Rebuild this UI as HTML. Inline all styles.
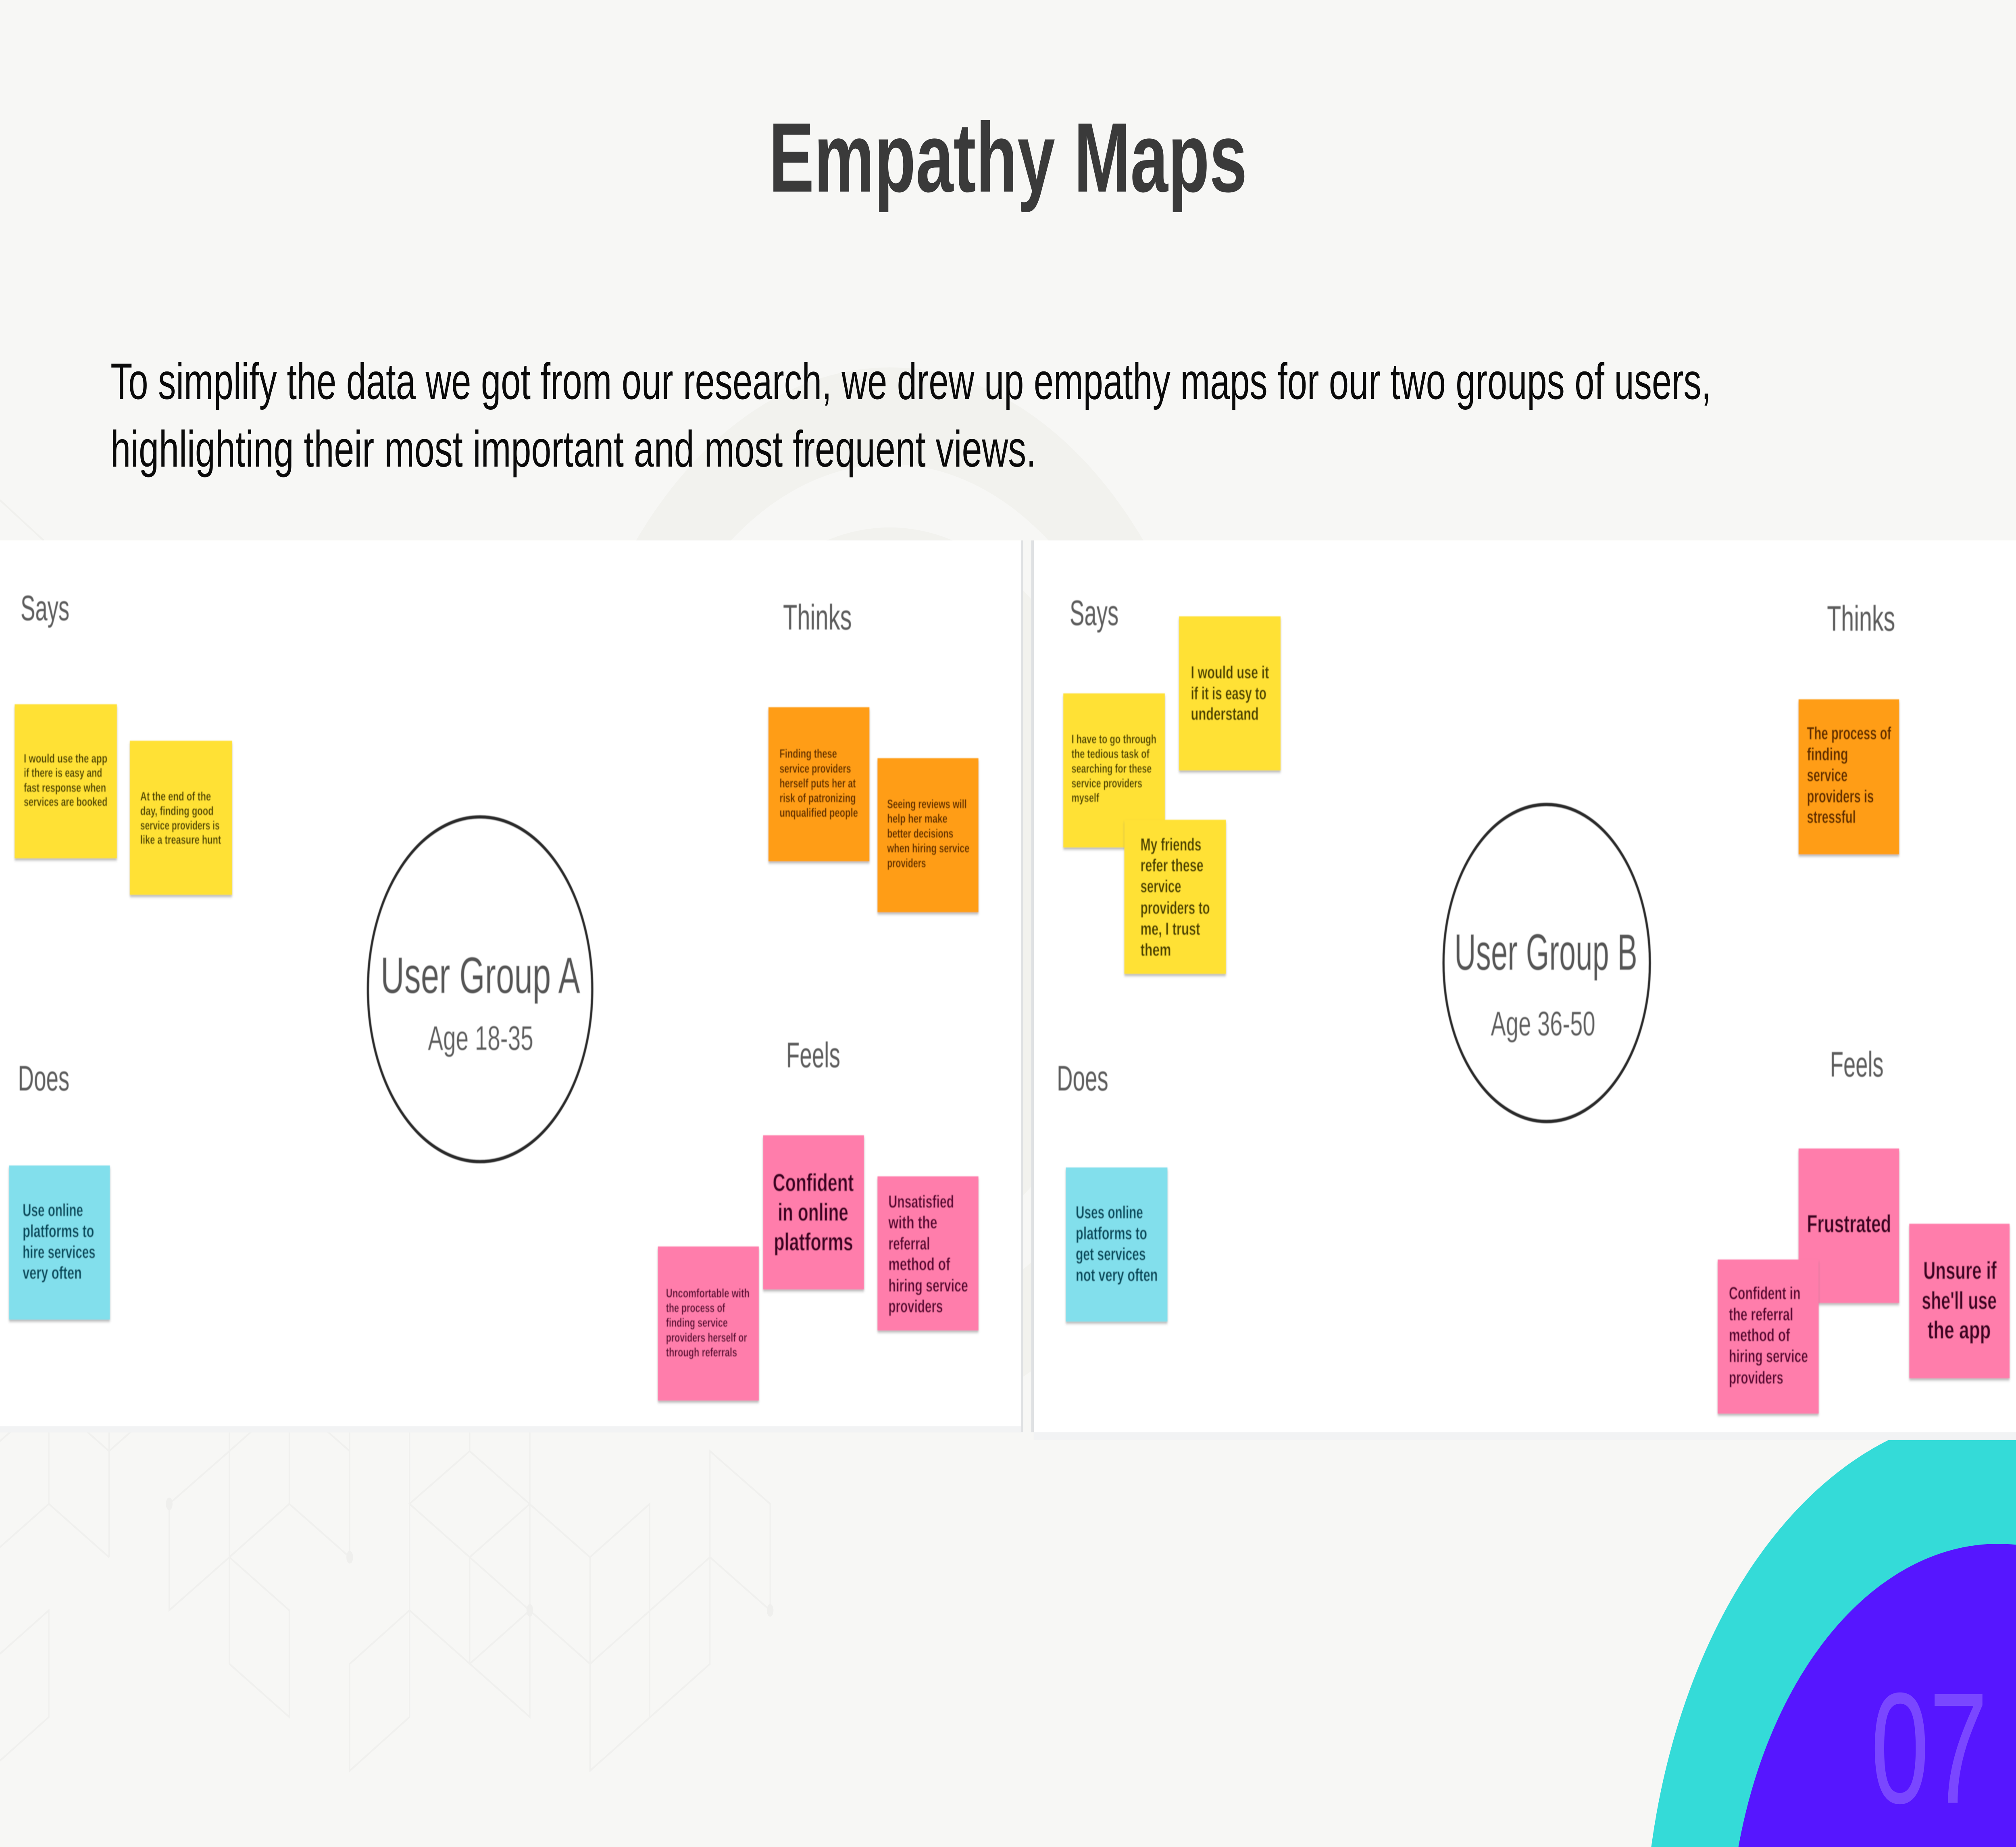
<!DOCTYPE html>
<html lang="en">
<head>
<meta charset="utf-8">
<title>Empathy Maps</title>
<style>
html,body{margin:0;padding:0;width:100%;height:100%;overflow:hidden;background:#f7f7f5}
svg{display:block;position:fixed;left:0;top:0;width:100vw;height:100vh;overflow:hidden}
text{font-family:"Liberation Sans",sans-serif}
.l{font-size:18px;fill:#5c5c5c}
.s text{font-weight:bold}
.a{font-size:6.2px}
.b{font-size:8.8px}
.c{font-size:12.5px}
.y{fill:#4a3f00}
.o{fill:#5e2c00}
.p{fill:#5a0030}
.t{fill:#00485c}
.d{fill:#3c0020}
</style>
</head>
<body>
<svg xmlns="http://www.w3.org/2000/svg" viewBox="0 0 1568 935" preserveAspectRatio="none">
<defs>
<filter id="bl" x="-2%" y="-2%" width="104%" height="104%"><feGaussianBlur stdDeviation="0.22"/></filter>
<filter id="sh" x="-10%" y="-10%" width="120%" height="120%"><feGaussianBlur stdDeviation="0.7"/></filter>
</defs>
<rect width="1568" height="935" fill="#f7f7f5"/>
<!-- background arcs -->
<circle cx="692" cy="452" r="266" fill="#f2f2ee"/>
<circle cx="692" cy="452" r="217" fill="#f7f7f5"/>
<circle cx="692" cy="452" r="185" fill="#f2f2ee"/>
<path d="M0 253.2L34 273.6" stroke="#f0f0ed" stroke-width="1" fill="none"/>
<!-- hex pattern -->
<g fill="none" stroke="#f0f0ee" stroke-width="1">
<path d="M38 707.6V761.3M84.8 707.6V788.3M0 783.2L38 761.3L84.8 788.3M0 729.5L38 707.6L84.8 734.6L131.6 707.6M0 837.2L38 815.2V869.2L0 891.3"/>
<path d="M131.6 761.3V815.2L178.4 788.3L225 761.3L272 788.3V707.6M131.6 761.3L178.4 734.6L225 707.6L272 734.6M178.4 707.6V842.3L225 869.2V815.2L178.4 788.3M225 707.6V761.3"/>
<path d="M318.5 707.6V869.2L272 896.4V842.3L318.5 815.2L412.1 869.2V707.6M365.3 707.6V734.6L318.5 761.3L458.9 842.3M365.3 734.6L458.9 788.3L505.3 761.3V869.2M365.3 788.3V842.3M365.3 788.3L412.1 761.3M412.1 815.2L365.3 842.3"/>
<path d="M458.9 788.3V896.4L552.2 842.3V734.6L599 761.3V815.2L552.2 788.3L458.9 842.3"/>
</g>
<g fill="#efefed">
<ellipse cx="131.6" cy="761.3" rx="2.6" ry="3.2"/>
<ellipse cx="272" cy="788.3" rx="2.6" ry="3.2"/>
<ellipse cx="412.1" cy="815.2" rx="2.6" ry="3.2"/>
<ellipse cx="599" cy="815.2" rx="2.6" ry="3.2"/>
</g>
<!-- panels -->
<rect x="0" y="722" width="794" height="3.2" fill="#f2f3f4"/>
<rect x="804" y="725" width="764" height="4" fill="#f2f3f4"/>
<rect x="0" y="273.6" width="794" height="448.4" fill="#ffffff"/>
<rect x="804" y="273.6" width="764" height="451.4" fill="#ffffff"/>
<rect x="794" y="273.6" width="1.6" height="451.4" fill="#dfe1e3"/>
<rect x="802" y="273.6" width="2.1" height="451.4" fill="#dfe1e3"/>
<!-- corner -->
<path d="M1284.3 935A275.5 275.5 0 0 1 1468.8 729H1568V935Z" fill="#34dbd8"/>
<path d="M1352.1 935A209.5 209.5 0 0 1 1568 782V935Z" fill="#5616ff"/>
<text x="1455" y="912.6" font-size="80" fill="#7a47ff" textLength="91" lengthAdjust="spacingAndGlyphs">07</text>
<!-- title + intro -->
<text x="598" y="97" font-size="50" font-weight="bold" fill="#3a3a3a" textLength="372" lengthAdjust="spacingAndGlyphs">Empathy Maps</text>
<text x="86" y="202" font-size="26" fill="#0a0a0a" textLength="1245" lengthAdjust="spacingAndGlyphs">To simplify the data we got from our research, we drew up empathy maps for our two groups of users,</text>
<text x="86" y="236.2" font-size="26" fill="#0a0a0a" textLength="720" lengthAdjust="spacingAndGlyphs">highlighting their most important and most frequent views.</text>

<g filter="url(#bl)">
<!-- labels -->
<text class="l" x="16" y="314" textLength="38" lengthAdjust="spacingAndGlyphs">Says</text>
<text class="l" x="14" y="552" textLength="40" lengthAdjust="spacingAndGlyphs">Does</text>
<text class="l" x="609" y="318.7" textLength="53.5" lengthAdjust="spacingAndGlyphs">Thinks</text>
<text class="l" x="611.5" y="540.3" textLength="42" lengthAdjust="spacingAndGlyphs">Feels</text>
<text class="l" x="832" y="316.4" textLength="38" lengthAdjust="spacingAndGlyphs">Says</text>
<text class="l" x="822" y="552" textLength="40" lengthAdjust="spacingAndGlyphs">Does</text>
<text class="l" x="1421" y="319.3" textLength="53" lengthAdjust="spacingAndGlyphs">Thinks</text>
<text class="l" x="1423.4" y="545" textLength="41.6" lengthAdjust="spacingAndGlyphs">Feels</text>

<!-- circles -->
<circle cx="373.4" cy="500.8" r="87.2" fill="#fff" stroke="#2b2b2b" stroke-width="1.8"/>
<text x="296" y="502.7" font-size="26" fill="#555" textLength="155.3" lengthAdjust="spacingAndGlyphs">User Group A</text>
<text x="332.8" y="531.5" font-size="17.5" fill="#5c5c5c" textLength="82" lengthAdjust="spacingAndGlyphs">Age 18-35</text>
<circle cx="1203" cy="487.5" r="80.2" fill="#fff" stroke="#2b2b2b" stroke-width="1.8"/>
<text x="1131.2" y="491" font-size="26" fill="#555" textLength="142.3" lengthAdjust="spacingAndGlyphs">User Group B</text>
<text x="1159.5" y="524.2" font-size="17.5" fill="#5c5c5c" textLength="81.3" lengthAdjust="spacingAndGlyphs">Age 36-50</text>

<!-- A yellow 1 -->
<rect x="11.4" y="357.5" width="79.5" height="78" fill="#777" opacity=".55" filter="url(#sh)"/>
<rect x="11.4" y="356.5" width="79.5" height="78" fill="#ffe135"/>
<g class="s">
<text class="a y" x="18.5" y="386" textLength="65" lengthAdjust="spacingAndGlyphs">I would use the app</text>
<text class="a y" x="18.5" y="393.3" textLength="61" lengthAdjust="spacingAndGlyphs">if there is easy and</text>
<text class="a y" x="18.5" y="400.8" textLength="64" lengthAdjust="spacingAndGlyphs">fast response when</text>
<text class="a y" x="18.5" y="408" textLength="65" lengthAdjust="spacingAndGlyphs">services are booked</text>
</g>
<!-- A yellow 2 -->
<rect x="101" y="376" width="79.5" height="78" fill="#777" opacity=".55" filter="url(#sh)"/>
<rect x="101" y="375" width="79.5" height="78" fill="#ffe135"/>
<g class="s">
<text class="a y" x="109.1" y="405.2" textLength="55" lengthAdjust="spacingAndGlyphs">At the end of the</text>
<text class="a y" x="109.1" y="412.6" textLength="57" lengthAdjust="spacingAndGlyphs">day, finding good</text>
<text class="a y" x="109.1" y="419.9" textLength="61.7" lengthAdjust="spacingAndGlyphs">service providers is</text>
<text class="a y" x="109.1" y="427.2" textLength="62.8" lengthAdjust="spacingAndGlyphs">like a treasure hunt</text>
</g>
<!-- A blue -->
<rect x="7" y="591" width="78.5" height="78" fill="#777" opacity=".55" filter="url(#sh)"/>
<rect x="7" y="590" width="78.5" height="78" fill="#82dfec"/>
<g class="s">
<text class="b t" x="17.6" y="615.6" textLength="47" lengthAdjust="spacingAndGlyphs">Use online</text>
<text class="b t" x="17.6" y="626.2" textLength="55.6" lengthAdjust="spacingAndGlyphs">platforms to</text>
<text class="b t" x="17.6" y="636.8" textLength="56.6" lengthAdjust="spacingAndGlyphs">hire services</text>
<text class="b t" x="17.6" y="647.4" textLength="46" lengthAdjust="spacingAndGlyphs">very often</text>
</g>
<!-- A orange 1 -->
<rect x="597.7" y="359" width="78.5" height="78" fill="#777" opacity=".55" filter="url(#sh)"/>
<rect x="597.7" y="358" width="78.5" height="78" fill="#ff9d12"/>
<g class="s">
<text class="a o" x="606.3" y="383.6" textLength="44.7" lengthAdjust="spacingAndGlyphs">Finding these</text>
<text class="a o" x="606.3" y="391.1" textLength="55.6" lengthAdjust="spacingAndGlyphs">service providers</text>
<text class="a o" x="606.3" y="398.6" textLength="59.3" lengthAdjust="spacingAndGlyphs">herself puts her at</text>
<text class="a o" x="606.3" y="406.1" textLength="59.3" lengthAdjust="spacingAndGlyphs">risk of patronizing</text>
<text class="a o" x="606.3" y="413.5" textLength="61" lengthAdjust="spacingAndGlyphs">unqualified people</text>
</g>
<!-- A orange 2 -->
<rect x="682.5" y="384.8" width="78.5" height="78" fill="#777" opacity=".55" filter="url(#sh)"/>
<rect x="682.5" y="383.8" width="78.5" height="78" fill="#ff9d12"/>
<g class="s">
<text class="a o" x="690" y="409.1" textLength="61.9" lengthAdjust="spacingAndGlyphs">Seeing reviews will</text>
<text class="a o" x="690" y="416.5" textLength="46.9" lengthAdjust="spacingAndGlyphs">help her make</text>
<text class="a o" x="690" y="424" textLength="51.5" lengthAdjust="spacingAndGlyphs">better decisions</text>
<text class="a o" x="690" y="431.5" textLength="64" lengthAdjust="spacingAndGlyphs">when hiring service</text>
<text class="a o" x="690" y="439" textLength="30.2" lengthAdjust="spacingAndGlyphs">providers</text>
</g>
<!-- A pink uncomfortable -->
<rect x="511.7" y="632" width="78.5" height="78" fill="#777" opacity=".55" filter="url(#sh)"/>
<rect x="511.7" y="631" width="78.5" height="78" fill="#ff7dab"/>
<g class="s">
<text class="a p" x="518" y="656.7" textLength="65" lengthAdjust="spacingAndGlyphs">Uncomfortable with</text>
<text class="a p" x="518" y="664.2" textLength="46" lengthAdjust="spacingAndGlyphs">the process of</text>
<text class="a p" x="518" y="671.7" textLength="48" lengthAdjust="spacingAndGlyphs">finding service</text>
<text class="a p" x="518" y="679.2" textLength="63" lengthAdjust="spacingAndGlyphs">providers herself or</text>
<text class="a p" x="518" y="686.7" textLength="55.3" lengthAdjust="spacingAndGlyphs">through referrals</text>
</g>
<!-- A pink confident -->
<rect x="593.5" y="575.7" width="78.5" height="78" fill="#777" opacity=".55" filter="url(#sh)"/>
<rect x="593.5" y="574.7" width="78.5" height="78" fill="#ff7dab"/>
<g class="s">
<text class="c d" x="601" y="603" textLength="63" lengthAdjust="spacingAndGlyphs">Confident</text>
<text class="c d" x="605" y="618" textLength="54.8" lengthAdjust="spacingAndGlyphs">in online</text>
<text class="c d" x="601.9" y="633" textLength="61.6" lengthAdjust="spacingAndGlyphs">platforms</text>
</g>
<!-- A pink unsatisfied -->
<rect x="682.5" y="596.5" width="78.5" height="78" fill="#777" opacity=".55" filter="url(#sh)"/>
<rect x="682.5" y="595.5" width="78.5" height="78" fill="#ff7dab"/>
<g class="s">
<text class="b p" x="691" y="611.3" textLength="51" lengthAdjust="spacingAndGlyphs">Unsatisfied</text>
<text class="b p" x="691" y="621.8" textLength="38" lengthAdjust="spacingAndGlyphs">with the</text>
<text class="b p" x="691" y="632.6" textLength="32.3" lengthAdjust="spacingAndGlyphs">referral</text>
<text class="b p" x="691" y="643" textLength="48" lengthAdjust="spacingAndGlyphs">method of</text>
<text class="b p" x="691" y="653.8" textLength="61.9" lengthAdjust="spacingAndGlyphs">hiring service</text>
<text class="b p" x="691" y="664.3" textLength="42.3" lengthAdjust="spacingAndGlyphs">providers</text>
</g>

<!-- B yellow 1 -->
<rect x="917" y="313" width="79" height="78" fill="#777" opacity=".55" filter="url(#sh)"/>
<rect x="917" y="312" width="79" height="78" fill="#ffe135"/>
<g class="s">
<text class="b y" x="926.2" y="343.4" textLength="60.8" lengthAdjust="spacingAndGlyphs">I would use it</text>
<text class="b y" x="926.2" y="354" textLength="58.8" lengthAdjust="spacingAndGlyphs">if it is easy to</text>
<text class="b y" x="926.2" y="364.4" textLength="52.8" lengthAdjust="spacingAndGlyphs">understand</text>
</g>
<!-- B yellow 2 -->
<rect x="827" y="352" width="79" height="78" fill="#777" opacity=".55" filter="url(#sh)"/>
<rect x="827" y="351" width="79" height="78" fill="#ffe135"/>
<g class="s">
<text class="a y" x="833.4" y="376.2" textLength="66" lengthAdjust="spacingAndGlyphs">I have to go through</text>
<text class="a y" x="833.4" y="383.7" textLength="60.6" lengthAdjust="spacingAndGlyphs">the tedious task of</text>
<text class="a y" x="833.4" y="391.1" textLength="62.3" lengthAdjust="spacingAndGlyphs">searching for these</text>
<text class="a y" x="833.4" y="398.6" textLength="55" lengthAdjust="spacingAndGlyphs">service providers</text>
<text class="a y" x="833.4" y="406" textLength="21.5" lengthAdjust="spacingAndGlyphs">myself</text>
</g>
<!-- B yellow 3 -->
<rect x="874.5" y="416" width="79" height="78" fill="#777" opacity=".55" filter="url(#sh)"/>
<rect x="874.5" y="415" width="79" height="78" fill="#ffe135"/>
<g class="s">
<text class="b y" x="887" y="430.5" textLength="47.4" lengthAdjust="spacingAndGlyphs">My friends</text>
<text class="b y" x="887" y="441.1" textLength="49" lengthAdjust="spacingAndGlyphs">refer these</text>
<text class="b y" x="887" y="451.7" textLength="31.7" lengthAdjust="spacingAndGlyphs">service</text>
<text class="b y" x="887" y="462.6" textLength="54" lengthAdjust="spacingAndGlyphs">providers to</text>
<text class="b y" x="887" y="473.2" textLength="46.4" lengthAdjust="spacingAndGlyphs">me, I trust</text>
<text class="b y" x="887" y="483.8" textLength="23.8" lengthAdjust="spacingAndGlyphs">them</text>
</g>
<!-- B blue -->
<rect x="829" y="592" width="79" height="78" fill="#777" opacity=".55" filter="url(#sh)"/>
<rect x="829" y="591" width="79" height="78" fill="#82dfec"/>
<g class="s">
<text class="b t" x="836.7" y="616.7" textLength="52.3" lengthAdjust="spacingAndGlyphs">Uses online</text>
<text class="b t" x="836.7" y="627.3" textLength="55.5" lengthAdjust="spacingAndGlyphs">platforms to</text>
<text class="b t" x="836.7" y="637.9" textLength="54.4" lengthAdjust="spacingAndGlyphs">get services</text>
<text class="b t" x="836.7" y="648.5" textLength="63.8" lengthAdjust="spacingAndGlyphs">not very often</text>
</g>
<!-- B orange -->
<rect x="1398.9" y="355" width="78.2" height="78.5" fill="#777" opacity=".55" filter="url(#sh)"/>
<rect x="1398.9" y="354" width="78.2" height="78.5" fill="#ff9d12"/>
<g class="s">
<text class="b o" x="1405.4" y="374.2" textLength="65.5" lengthAdjust="spacingAndGlyphs">The process of</text>
<text class="b o" x="1405.4" y="384.8" textLength="32" lengthAdjust="spacingAndGlyphs">finding</text>
<text class="b o" x="1405.4" y="395.4" textLength="31.6" lengthAdjust="spacingAndGlyphs">service</text>
<text class="b o" x="1405.4" y="406.2" textLength="52" lengthAdjust="spacingAndGlyphs">providers is</text>
<text class="b o" x="1405.4" y="416.6" textLength="38" lengthAdjust="spacingAndGlyphs">stressful</text>
</g>
<!-- B pink frustrated -->
<rect x="1398.9" y="582.4" width="78.2" height="78.2" fill="#777" opacity=".55" filter="url(#sh)"/>
<rect x="1398.9" y="581.4" width="78.2" height="78.2" fill="#ff7dab"/>
<g class="s">
<text class="c d" x="1405.4" y="623.8" textLength="65.5" lengthAdjust="spacingAndGlyphs">Frustrated</text>
</g>
<!-- B pink unsure -->
<rect x="1485" y="620.5" width="78" height="78.2" fill="#777" opacity=".55" filter="url(#sh)"/>
<rect x="1485" y="619.5" width="78" height="78.2" fill="#ff7dab"/>
<g class="s">
<text class="c d" x="1495.9" y="647.5" textLength="57" lengthAdjust="spacingAndGlyphs">Unsure if</text>
<text class="c d" x="1494.7" y="662.7" textLength="58.3" lengthAdjust="spacingAndGlyphs">she'll use</text>
<text class="c d" x="1499.2" y="677.6" textLength="49.2" lengthAdjust="spacingAndGlyphs">the app</text>
</g>
<!-- B pink confident -->
<rect x="1336" y="638.6" width="78.5" height="78" fill="#777" opacity=".55" filter="url(#sh)"/>
<rect x="1336" y="637.6" width="78.5" height="78" fill="#ff7dab"/>
<g class="s">
<text class="b p" x="1344.7" y="657.7" textLength="55.7" lengthAdjust="spacingAndGlyphs">Confident in</text>
<text class="b p" x="1344.7" y="668.4" textLength="50" lengthAdjust="spacingAndGlyphs">the referral</text>
<text class="b p" x="1344.7" y="678.9" textLength="47.5" lengthAdjust="spacingAndGlyphs">method of</text>
<text class="b p" x="1344.7" y="689.5" textLength="61.5" lengthAdjust="spacingAndGlyphs">hiring service</text>
<text class="b p" x="1344.7" y="700.4" textLength="42.3" lengthAdjust="spacingAndGlyphs">providers</text>
</g>
</g>
</svg>
</body>
</html>
